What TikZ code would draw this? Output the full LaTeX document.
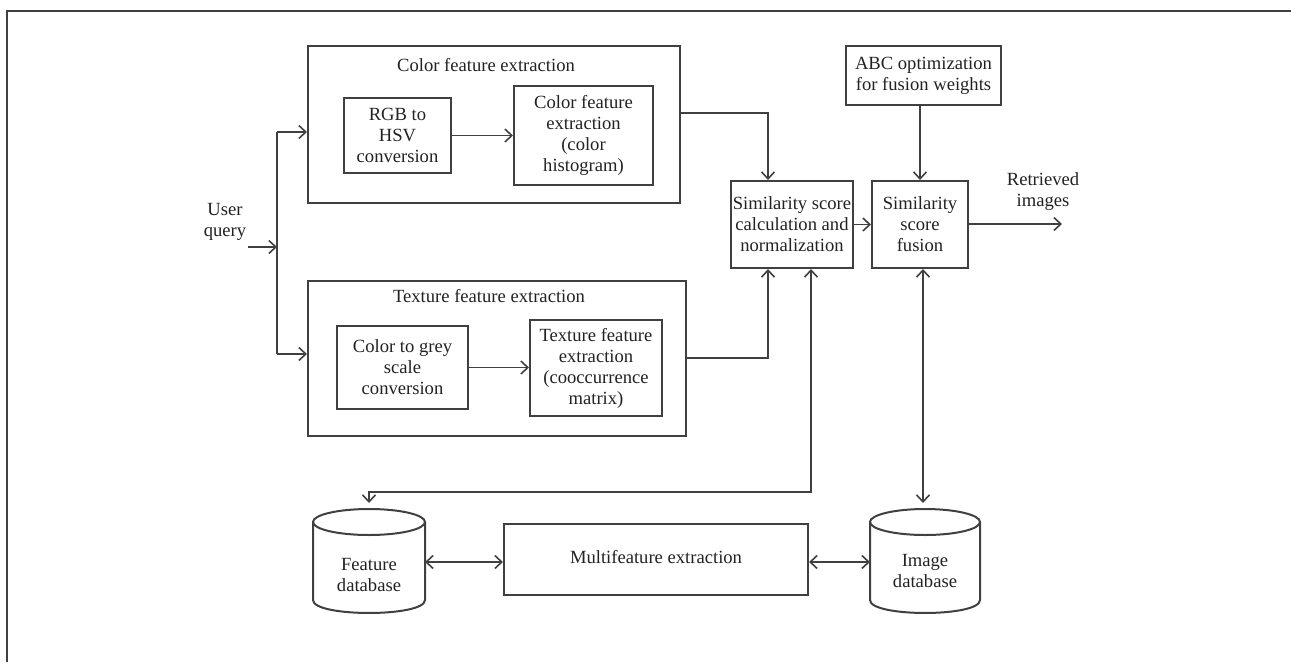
\documentclass[tikz,border=0pt]{standalone}
\usepackage{fontspec}
\setmainfont{Liberation Serif}
\usetikzlibrary{arrows.meta,calc}
\definecolor{ln}{HTML}{404040}
\definecolor{tx}{HTML}{222222}
\begin{document}
\begin{tikzpicture}[x=1pt,y=-1pt,
  every node/.style={text=tx,font=\fontsize{18.6}{21}\selectfont,inner sep=0pt,align=center},
  box/.style={draw=ln,line width=2pt,rectangle},
  conn/.style={draw=ln,line width=1.8pt},
  arr/.style={conn,-{Straight Barb[length=7pt,width=13pt,line width=1.6pt]}},
  darr/.style={conn,{Straight Barb[length=7pt,width=13pt,line width=1.6pt]}-{Straight Barb[length=7pt,width=13pt,line width=1.6pt]}}]
\useasboundingbox (0,0) rectangle (1291,662);
% frame
\draw[conn,line width=2.2pt] (7,662) -- (7,11) -- (1291,11);
% colour branch
\node[box,minimum width=372,minimum height=157] (colorouter) at (494,124.5) {};
\node (colortitle) at (486,65) {Color feature extraction};
\node[box,minimum width=107,minimum height=75] (rgb) at (397.5,135.5) {RGB to\\HSV\\conversion};
\node[box,minimum width=139,minimum height=99] (cfe) at (583.5,135.5) {Color feature\\extraction\\(color\\histogram)};
% texture branch
\node[box,minimum width=378,minimum height=155] (texouter) at (497,358.5) {};
\node (textitle) at (489,296) {Texture feature extraction};
\node[box,minimum width=131,minimum height=83] (grey) at (402.5,367.5) {Color to grey\\scale\\conversion};
\node[box,minimum width=132,minimum height=96] (tfe) at (596,368) {Texture feature\\extraction\\(cooccurrence\\matrix)};
% similarity
\node[box,minimum width=122,minimum height=87] (sim) at (792,224.5) {Similarity score\\calculation and\\normalization};
\node[box,minimum width=96,minimum height=87] (fus) at (920,224.5) {Similarity\\score\\fusion};
\node[box,minimum width=155,minimum height=59] (abc) at (923.5,75.5) {ABC optimization\\for fusion weights};
\node (ret) at (1043,192) {Retrieved\\images};
\node (user) at (225,222) {User\\query};
% bottom
\node[box,minimum width=304,minimum height=71] (multi) at (656,559.5) {};
\node (multitext) at (656,557) {Multifeature extraction};
\node[minimum width=112,minimum height=104] (fdb) at (369,561) {};
\node[minimum width=110,minimum height=104] (idb) at (925,561) {};
\node (fdbtext) at (369,575) {Feature\\database};
\node (idbtext) at (925,571) {Image\\database};
% cylinders
\foreach \c/\r in {369/56,925/55}{
  \draw[conn,line width=2pt] (\c,522) ellipse [x radius=\r, y radius=13];
  \draw[conn,line width=2pt] (\c-\r,522) -- (\c-\r,600) .. controls (\c-\r,617.3) and (\c+\r,617.3) .. (\c+\r,600) -- (\c+\r,522);
}
% connectors
\coordinate (uq) at (248,247);
\coordinate (jt) at (277,132);
\coordinate (jb) at (277,354);
\draw[arr] (uq) -- (uq -| jt);
\draw[conn] (jt) -- (jb);
\draw[arr] (jt) -- (jt -| colorouter.west);
\draw[arr] (jb) -- (jb -| texouter.west);
\draw[arr] (rgb.east) -- (rgb.east -| cfe.west);
\draw[arr] (grey.east) -- (grey.east -| tfe.west);
\coordinate (ce) at (680,113);
\coordinate (te) at (686,358);
\draw[arr] (ce) -| ([xshift=-24pt]sim.north);
\draw[arr] (te) -| ([xshift=-24pt]sim.south);
\draw[arr] (sim.east) -- (sim.east -| fus.west);
\coordinate (out) at (1062,224);
\draw[arr] (fus.east |- out) -- (out);
\draw[arr] (fus.north |- abc.south) -- (fus.north);
\coordinate (bend) at (811,492);
\coordinate (fdbtop) at (369,503);
\draw[darr] (sim.south -| bend) -- (bend) -| (fdbtop);
\coordinate (idbtop) at (923,503);
\draw[darr] (fus.south -| idbtop) -- (idbtop);
\draw[darr] (425,562) -- (multi.west |- 0,562);
\draw[darr] (multi.east |- 0,562) -- (870,562);
\end{tikzpicture}
\end{document}
